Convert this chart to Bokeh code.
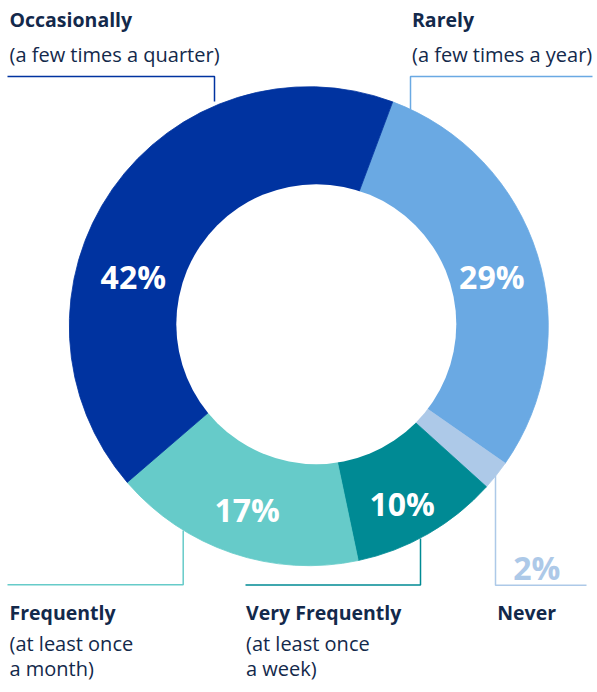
import math
from bokeh.plotting import figure
from bokeh.models import Range1d, ColumnDataSource
from bokeh.core.properties import value
from bokeh.embed import file_html
from bokeh.resources import INLINE

# ---- data ----
categories = ["Rarely", "Never", "Very Frequently", "Frequently", "Occasionally"]
subtitles = ["(a few times a year)", "", "(at least once\na week)", "(at least once\na month)", "(a few times a quarter)"]
values = [29, 2, 10, 17, 42]
pct_labels = ["29%", "2%", "10%", "17%", "42%"]
colors = ["#6AA9E3", "#ADC9E8", "#008A94", "#66CBC9", "#0033A0"]

W, H = 597, 684
TOP = 8  # page offset of the figure
FONT = "Open Sans"
TEXT_COLOR = "#13294B"

p = figure(width=W, height=H, output_backend="svg", toolbar_location=None,
           x_range=Range1d(0, W), y_range=Range1d(0, H), min_border=0)
p.axis.visible = False
p.grid.visible = False
p.outline_line_color = None
p.background_fill_color = "white"
p.border_fill_color = "white"

def Y(y_img):
    # layout helper: page y (from top) to data y
    return H + TOP - y_img

# ---- donut ----
cx, cy, r_out = 308.3, Y(333.7), 239.5
icx, icy, r_in = 315.8, Y(331.7), 140.0
start_deg = 20.5  # clockwise from 12 o'clock

total = float(sum(values))
starts, ends = [], []
acc = 0.0
for v in values:
    t0 = start_deg + acc / total * 360.0
    acc += v
    t1 = start_deg + acc / total * 360.0
    starts.append(math.radians(90.0 - t0))
    ends.append(math.radians(90.0 - t1))

src = ColumnDataSource(dict(cat=categories, val=values, start=starts, end=ends, color=colors))
p.wedge(x=cx, y=cy, radius=r_out, start_angle="start", end_angle="end", direction="clock",
        fill_color="color", line_color="color", line_width=0.8, source=src)
p.circle(x=icx, y=icy, radius=r_in, fill_color="white", line_color=None)

# ---- percent labels (positions are layout) ----
pct_pos = {"29%": (491.3, 284.3), "2%": (536.3, 575.0), "10%": (401.7, 510.7),
           "17%": (246.7, 516.7), "42%": (132.8, 284.3)}
pct_colors = {"2%": "#ADC9E8"}
for lab in pct_labels:
    x, yi = pct_pos[lab]
    p.text(x=[x], y=[Y(yi)], text=[lab], text_font=value(FONT), text_font_style="bold",
           text_font_size="32px", text_color=pct_colors.get(lab, "white"),
           text_align="center", text_baseline="alphabetic")

# ---- leader lines ----
leaders = {
    "Occasionally": ([7, 214, 214], [84, 84, 109]),
    "Rarely": ([592, 410, 410], [84, 84, 117]),
    "Frequently": ([7, 182.7, 182.7], [592.3, 592.3, 538]),
    "Very Frequently": ([245, 420, 420], [592.5, 592.5, 546]),
    "Never": ([495, 495, 586], [483, 592.7, 592.7]),
}
for cat, col in zip(categories, colors):
    xs, ys = leaders[cat]
    p.line(xs, [Y(v) for v in ys], line_color=col, line_width=1.5)

# ---- category labels ----
label_pos = {
    "Occasionally": (9, 27),
    "Rarely": (411.5, 27),
    "Frequently": (9, 620),
    "Very Frequently": (245.5, 620),
    "Never": (496.7, 620),
}
for cat, sub in zip(categories, subtitles):
    x, yi = label_pos[cat]
    p.text(x=[x], y=[Y(yi)], text=[cat], text_font=value(FONT), text_font_style="bold",
           text_font_size="19.5px", text_color=TEXT_COLOR, text_align="left",
           text_baseline="alphabetic")
    if sub:
        lines = sub.split("\n")
        if yi < 300:
            ys = [yi + 35 + 30 * i for i in range(len(lines))]
        else:
            ys = [yi + 31 + 25 * i for i in range(len(lines))]
        p.text(x=[x] * len(lines), y=[Y(v) for v in ys], text=lines, text_font=value(FONT),
               text_font_size="20px", text_color=TEXT_COLOR, text_align="left",
               text_baseline="alphabetic")

open("out.html", "w").write(file_html(p, INLINE))
